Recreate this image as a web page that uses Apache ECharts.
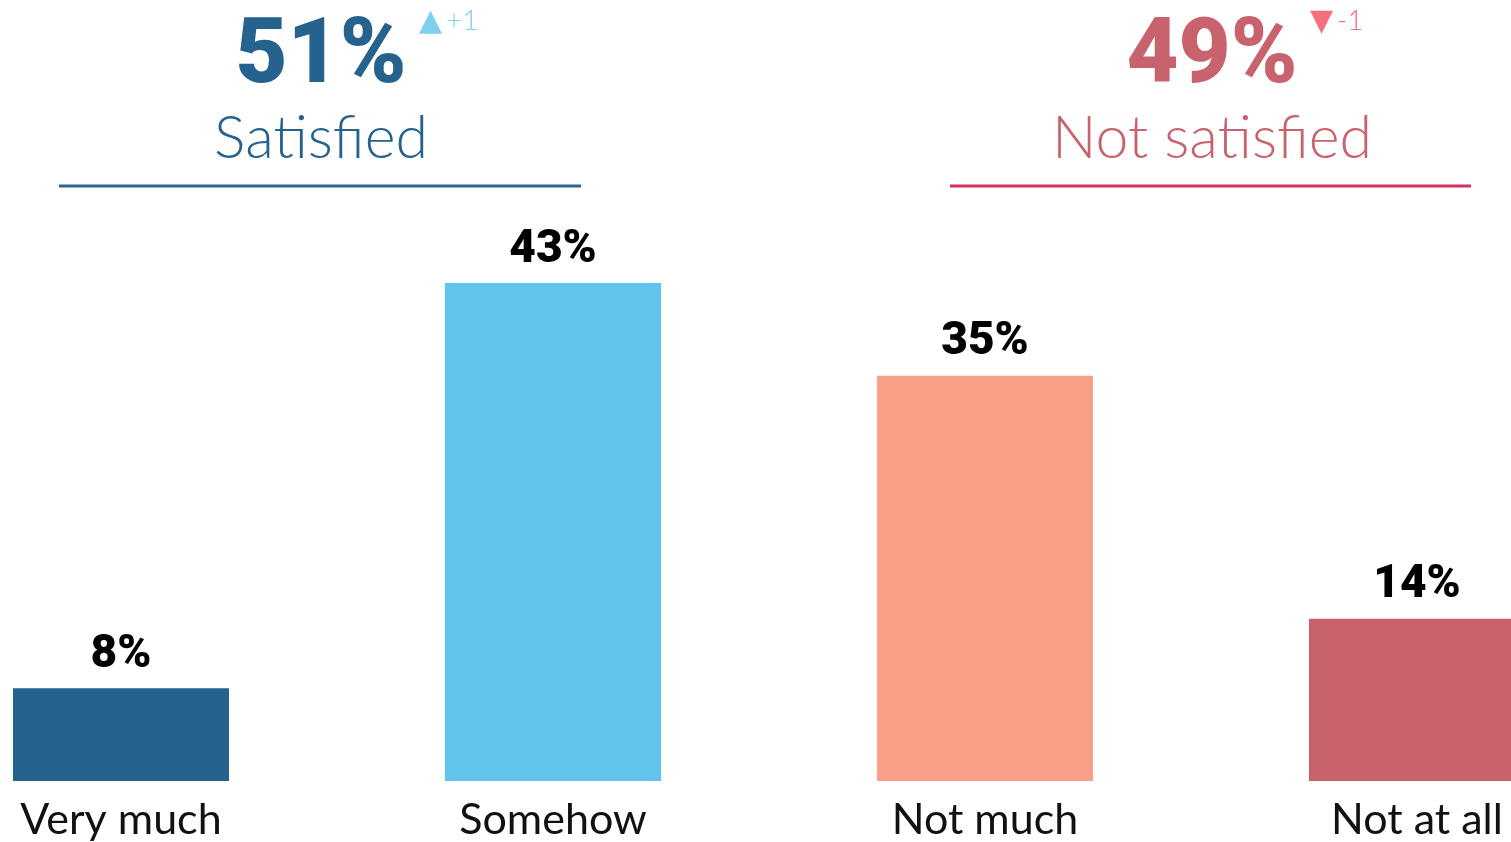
<!DOCTYPE html>
<html><head><meta charset="utf-8">
<script src="https://cdn.jsdelivr.net/npm/echarts@6/dist/echarts.min.js"></script>
<style>html,body{margin:0;padding:0;background:#fff}#c{width:1511px;height:842px}</style>
</head><body><div id="c"></div>
<script>
const categories = ['Very much', 'Somehow', 'Not much', 'Not at all'];
const values = [8, 43, 35, 14];
const barColors = ['#26628e', '#61c4ec', '#f9a088', '#c8636e'];
const groupTotals = ['51%', '49%'];
const groupNames = ['Satisfied', 'Not satisfied'];
const groupChanges = ['+1', '-1'];
const groupColors = ['#26628e', '#c8636e'];
const lineColors = ['#2d6696', '#d0345e'];
const changeColors = ['#7fd0f0', '#f76f7c'];

const chart = echarts.init(document.getElementById('c'));
const graphic = [];
const centers = [321, 1212];
const lineX = [[59, 581], [950, 1471]];
for (let i = 0; i < 2; i++) {
  graphic.push({type:'text', x: centers[i], y: 59, style:{text: groupTotals[i], font:'900 90px Roboto', fill: groupColors[i], align:'center', verticalAlign:'middle'}});
  graphic.push({type:'text', x: centers[i], y: 139, style:{text: groupNames[i], font:'300 59px Lato', fill: groupColors[i], align:'center', verticalAlign:'middle'}});
  graphic.push({type:'line', shape:{x1: lineX[i][0], y1: 186, x2: lineX[i][1], y2: 186}, style:{stroke: lineColors[i], lineWidth: 3}});
  graphic.push({type:'text', x: centers[i] + 98, y: 22, style:{text: (i === 0 ? '▲' : '▼'), font:'30px "DejaVu Sans"', fill: changeColors[i], align:'left', verticalAlign:'middle'}});
  graphic.push({type:'text', x: centers[i] + 125, y: 21, style:{text: groupChanges[i], font:'300 28px Lato', fill: changeColors[i], align:'left', verticalAlign:'middle'}});
}

chart.setOption({
  animation: false,
  grid: {left: -95, width: 1728, top: 283, bottom: 61, containLabel: false, outerBoundsMode: 'none'},
  xAxis: {type:'category', data: categories, axisLine:{show:false}, axisTick:{show:false},
    axisLabel:{color:'#111', fontFamily:'Lato', fontSize:43, margin:18, verticalAlign:'top', interval:0}},
  yAxis: {type:'value', min:0, max:43, show:false, splitLine:{show:false}},
  series: [{type:'bar', barWidth:'50%',
    data: values.map((v, i) => ({value: v, itemStyle:{color: barColors[i]}})),
    label: {show:true, position:'top', distance:10, formatter: p => p.value + '%', color:'#000', fontFamily:'Roboto', fontWeight:900, fontSize:46}
  }],
  graphic: graphic
});
</script></body></html>
